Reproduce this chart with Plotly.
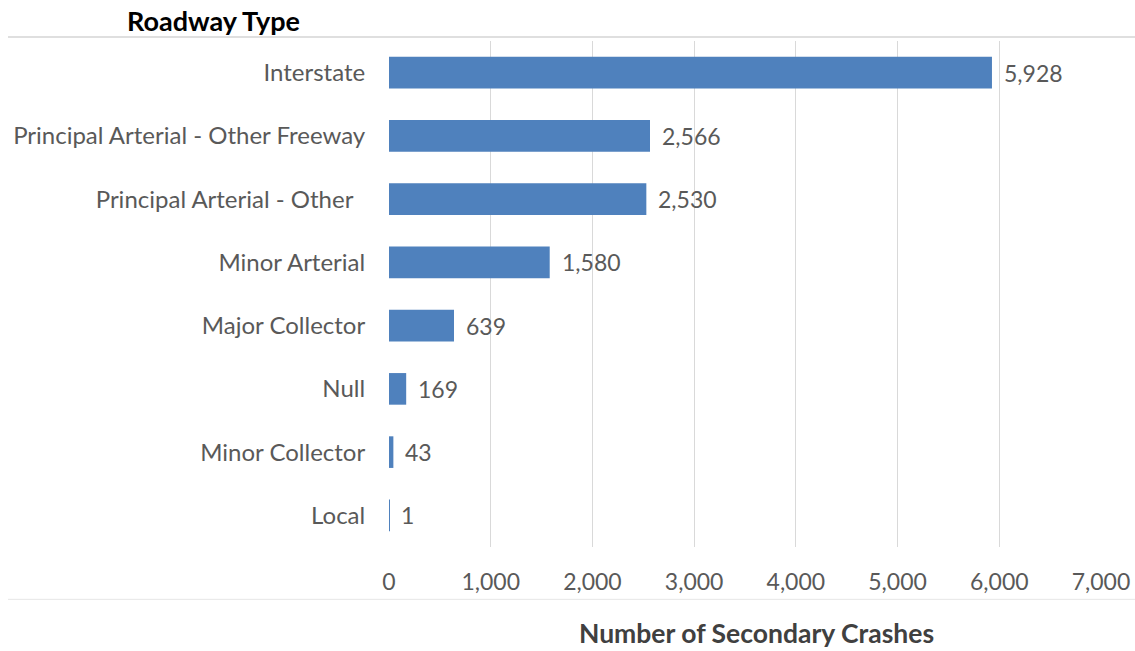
import plotly.graph_objects as go

categories = ["Interstate", "Principal Arterial - Other Freeway", "Principal Arterial - Other\u00a0\u00a0",
              "Minor Arterial", "Major Collector", "Null", "Minor Collector", "Local"]
values = [5928, 2566, 2530, 1580, 639, 169, 43, 1]
x_ticks = [0, 1000, 2000, 3000, 4000, 5000, 6000, 7000]

FONT = "Lato"
GRAY = "#595959"

fig = go.Figure()
fig.add_trace(go.Bar(
    x=values, y=categories, orientation="h",
    marker=dict(color="#4f81bd", line=dict(width=0)),
    width=0.5, hoverinfo="x+y",
))

for c, v in zip(categories, values):
    fig.add_annotation(x=v, y=c, text=f"{v:,}", showarrow=False, xanchor="left",
                       xshift=10, font=dict(family=FONT, size=23, color=GRAY))

fig.add_annotation(xref="paper", yref="paper", x=(756 - 389) / 712, y=(547.6 - 634) / 506.6,
                   xanchor="center", yanchor="middle", showarrow=False,
                   text="<b>Number of Secondary Crashes</b>",
                   font=dict(family=FONT, size=26.5, color="#404040"))

fig.update_layout(
    width=1135, height=651,
    margin=dict(l=389, r=34, t=41, b=104, autoexpand=False),
    plot_bgcolor="white", paper_bgcolor="white",
    showlegend=False,
    font=dict(family=FONT, size=23, color=GRAY),
    title=dict(text="<b>Roadway Type</b>", x=127/1135, xanchor="left", y=1-22/651, yanchor="middle",
               font=dict(family=FONT, size=27, color="#000000")),
    xaxis=dict(range=[0, 7000], tickvals=x_ticks, tickformat=",d", automargin=False,
               showgrid=True, gridcolor="#d9d9d9", gridwidth=1.3, zeroline=False,
               showline=False, ticks="outside", ticklen=14, tickcolor="rgba(0,0,0,0)",
               tickfont=dict(family=FONT, size=23, color=GRAY)),
    yaxis=dict(categoryorder="array", categoryarray=categories[::-1], autorange=True, automargin=False,
               showgrid=False, zeroline=False, showline=False,
               ticks="outside", ticklen=18, tickcolor="rgba(0,0,0,0)",
               tickfont=dict(family=FONT, size=24, color=GRAY)),
    bargap=0.5,
)

fig.add_shape(type="line", xref="paper", yref="paper", x0=(8-389)/712, x1=(1135-389)/712,
              y0=(547.6-37)/506.6, y1=(547.6-37)/506.6, line=dict(color="#bfbfbf", width=1))
fig.add_shape(type="line", xref="paper", yref="paper", x0=(8-389)/712, x1=(1135-389)/712,
              y0=(547.6-600)/506.6, y1=(547.6-600)/506.6, line=dict(color="#e6e6e6", width=1))

fig.write_html("out.html", config={"displayModeBar": False},
               post_script="document.body.style.margin='0';")
